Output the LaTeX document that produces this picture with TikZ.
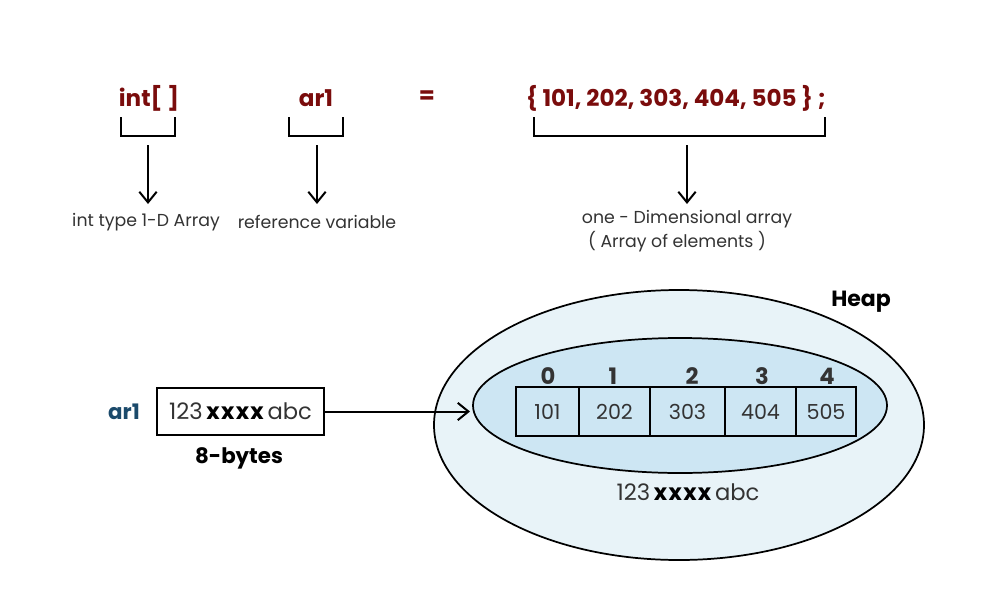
\documentclass[tikz,border=0pt]{standalone}
\usepackage{fontspec}
\setmainfont{Poppins}
\usetikzlibrary{arrows.meta}
\definecolor{dred}{HTML}{7A0C0C}
\definecolor{dblue}{HTML}{1B4A6B}
\definecolor{heapout}{HTML}{E8F3F8}
\definecolor{heapin}{HTML}{CDE6F3}
\definecolor{txt}{HTML}{333333}
\newcommand{\addrtext}{123\,{\bfseries\color{black}x\kern0.06em x\kern0.06em x\kern0.06em x}\,abc}
\tikzset{
  decl/.style={text=dred, font=\fontsize{17.3}{20}\selectfont\bfseries, inner sep=0pt},
  lbl/.style={text=txt, font=\fontsize{13}{15}\selectfont, inner sep=0pt},
  brk/.style={line width=1.5pt},
  arr/.style={line width=1.5pt, -{Straight Barb[length=8pt,width=13pt,line width=1.5pt]}},
  cell/.style={draw, line width=1.2pt, minimum height=36.5pt, inner sep=0pt, text=txt, font=\fontsize{15.5}{17}\selectfont},
  idx/.style={text=txt, font=\fontsize{17}{19}\selectfont\bfseries, inner sep=0pt},
  bold/.style={text=black, font=\fontsize{16}{18}\selectfont\bfseries, inner sep=0pt},
}
\begin{document}
\begin{tikzpicture}[x=0.75pt, y=-0.75pt]
\useasboundingbox (0,0) rectangle (1000,600);
% top declaration
\node[decl] (int) at (149,98) {int[ ]};
\node[decl] (ar) at (316,98) {ar1};
\node[decl] (eq) at (427,97) {=};
\node[decl] (vals) at (676,98) {\{ 101, 202, 303, 404, 505 \} ;};
% brackets
\draw[brk] (121,117) -- (121,136) -- (175,136) -- (175,117);
\draw[brk] (289,117) -- (289,136) -- (343,136) -- (343,117);
\draw[brk] (534,117) -- (534,136) -- (825,136) -- (825,117);
% arrows and labels
\coordinate (a1) at (148,145);
\coordinate (a2) at (317,145);
\coordinate (a3) at (687,145);
\node[lbl] (l1) at (146,222) {int type 1-D Array};
\node[lbl] (l2) at (317,222) {reference variable};
\node[lbl] (l3) at (687,219) {one - Dimensional array};
\node[lbl] (l4) at (677,242) {( Array of elements )};
\draw[arr] (a1) -- (148,204);
\draw[arr] (a2) -- (317,204);
\draw[arr] (a3) -- (687,204);
% heap
\draw[line width=1.3pt, fill=heapout] (679,425) ellipse [x radius=245, y radius=135];
\draw[line width=1.3pt, fill=heapin] (680,405.5) ellipse [x radius=207, y radius=67.5];
\node[bold, font=\fontsize{16.5}{18}\selectfont\bfseries] (heap) at (861,302) {Heap};
% cells
\node[cell, minimum width=47.25pt] (c0) at (547.5,411.5) {101};
\node[cell, minimum width=53.25pt] (c1) at (614.5,411.5) {202};
\node[cell, minimum width=56.25pt] (c2) at (687.5,411.5) {303};
\node[cell, minimum width=53.25pt] (c3) at (760.5,411.5) {404};
\node[cell, minimum width=45pt] (c4) at (826,411.5) {505};
\node[idx] (i0) at (548,376) {0};
\node[idx] (i1) at (613,376) {1};
\node[idx] (i2) at (692,376) {2};
\node[idx] (i3) at (762,376) {3};
\node[idx] (i4) at (827,376) {4};
\node[text=txt, font=\fontsize{17}{19}\selectfont, inner sep=0pt] (addr) at (688,492) {\addrtext};
% reference box
\node[text=dblue, font=\fontsize{16}{18}\selectfont\bfseries, inner sep=0pt] (ref) at (124,412) {ar1};
\node[draw, line width=1.5pt, minimum width=125pt, minimum height=35pt, inner sep=0pt, text=txt, font=\fontsize{17}{19}\selectfont] (box) at (240.5,411.5) {\addrtext};
\node[bold] (bytes) at (239,458) {8-bytes};
\draw[arr] (box.east) -- (470,411.5);
\end{tikzpicture}
\end{document}
